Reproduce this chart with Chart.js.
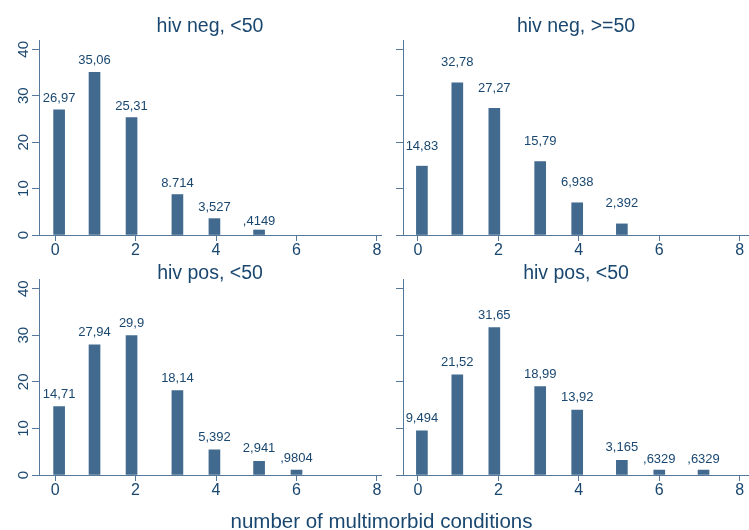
<!DOCTYPE html>
<html>
<head>
<meta charset="utf-8">
<script src="https://cdn.jsdelivr.net/npm/chart.js@4.4.0/dist/chart.umd.min.js"></script>
<style>
  body { margin: 0; background: #fff; }
  #wrap { position: relative; width: 749px; height: 530px; overflow: hidden; background: #fff; }
  canvas { position: absolute; }
  #xtitle { position: absolute; left: 0; width: 763px; top: 509px; line-height: 24px; text-align: center;
    font-size: 20.5px; font-family: "Liberation Sans", Arial, sans-serif; color: #1a476f; }
</style>
</head>
<body>
<div id="wrap">
  <canvas id="c0" width="385" height="260" style="left:0;top:0"></canvas>
  <canvas id="c1" width="364" height="260" style="left:385px;top:0"></canvas>
  <canvas id="c2" width="385" height="270" style="left:0;top:260px"></canvas>
  <canvas id="c3" width="364" height="270" style="left:385px;top:260px"></canvas>
  <div id="xtitle">number of multimorbid conditions</div>
</div>
<script>
// bin centres (number of conditions) as they sit on the x axis
var binCenters = [0.1, 0.98, 1.9, 3.04, 3.96, 5.07, 6.0, 7.1];
var xTicks = [0, 2, 4, 6, 8];
var yTicks = [0, 10, 20, 30, 40];

var titles = ['hiv neg, <50', 'hiv neg, >=50', 'hiv pos, <50', 'hiv pos, <50'];

// percent per bin
var negUnder50 = [26.97, 35.06, 25.31, 8.714, 3.527, 0.4149];
var negOver50 = [14.83, 32.78, 27.27, 15.79, 6.938, 2.392];
var posUnder50 = [14.71, 27.94, 29.9, 18.14, 5.392, 2.941, 0.9804];
var posUnder50b = [9.494, 21.52, 31.65, 18.99, 13.92, 3.165, 0.6329, 0.6329];

// bar labels as printed
var negUnder50Text = ['26,97', '35,06', '25,31', '8.714', '3,527', ',4149'];
var negOver50Text = ['14,83', '32,78', '27,27', '15,79', '6,938', '2,392'];
var posUnder50Text = ['14,71', '27,94', '29,9', '18,14', '5,392', '2,941', ',9804'];
var posUnder50bText = ['9,494', '21,52', '31,65', '18,99', '13,92', '3,165', ',6329', ',6329'];

var textColor = '#1a476f';
var barColor = '#416a8e';
var axisColor = '#56789a';
var fontFamily = '"Liberation Sans", Arial, sans-serif';

var valueLabels = {
  id: 'valueLabels',
  afterDatasetsDraw: function (chart, args, opts) {
    var ctx = chart.ctx;
    var meta = chart.getDatasetMeta(0);
    var ys = chart.scales.y;
    var data = chart.data.datasets[0].data;
    ctx.save();
    ctx.font = '13px ' + fontFamily;
    ctx.fillStyle = textColor;
    ctx.textAlign = 'center';
    ctx.textBaseline = 'middle';
    meta.data.forEach(function (bar, i) {
      ctx.fillText(opts.texts[i], bar.x, ys.getPixelForValue(data[i].y) - opts.offset);
    });
    ctx.restore();
  }
};

function makePanel(id, title, values, texts, p) {
  var points = values.map(function (v, i) { return { x: binCenters[i], y: v }; });
  return new Chart(document.getElementById(id), {
    type: 'bar',
    data: {
      datasets: [{
        data: points,
        backgroundColor: barColor,
        borderWidth: 0,
        barThickness: 11,
        minBarLength: 5
      }]
    },
    plugins: [valueLabels],
    options: {
      responsive: false,
      animation: false,
      events: [],
      layout: { padding: { left: 0, right: p.padRight, top: 0, bottom: p.padBottom } },
      plugins: {
        legend: { display: false },
        tooltip: { enabled: false },
        title: {
          display: true,
          text: title,
          fullSize: false,
          color: textColor,
          font: { family: fontFamily, size: 19.5, weight: 'normal', lineHeight: 0.78 },
          padding: { top: p.titleTop, bottom: p.titleBottom }
        },
        valueLabels: { texts: texts, offset: p.labelOffset }
      },
      scales: {
        x: {
          type: 'linear',
          min: p.xMin,
          max: p.xMax,
          offset: false,
          afterBuildTicks: function (s) { s.ticks = xTicks.map(function (v) { return { value: v }; }); },
          afterFit: function (s) { s.height = 25; },
          grid: { offset: false, drawOnChartArea: false, drawTicks: true, tickLength: 6, color: axisColor, lineWidth: 1 },
          border: { display: true, color: axisColor, width: 1 },
          ticks: { color: textColor, font: { family: fontFamily, size: 16 }, padding: 0, maxRotation: 0, autoSkip: false }
        },
        y: {
          min: 0,
          max: 42,
          afterBuildTicks: function (s) { s.ticks = yTicks.map(function (v) { return { value: v }; }); },
          afterFit: function (s) { s.width = p.yWidth; },
          grid: { drawOnChartArea: false, drawTicks: true, tickLength: 7, color: axisColor, lineWidth: 1 },
          border: { display: true, color: axisColor, width: 1 },
          ticks: {
            display: p.yLabels,
            color: textColor,
            font: { family: fontFamily, size: 15 },
            minRotation: 90,
            maxRotation: 90,
            crossAlign: 'center',
            padding: 0
          }
        }
      }
    }
  });
}

var leftTop = { xMin: -0.4, xMax: 8.1, yWidth: 39, yLabels: true, padRight: 4, padBottom: 0, titleTop: 19, titleBottom: 5.8, labelOffset: 11.5 };
var rightTop = { xMin: -0.37, xMax: 8.23, yWidth: 18, yLabels: false, padRight: 0, padBottom: 0, titleTop: 19, titleBottom: 5.8, labelOffset: 20 };
var leftBottom = { xMin: -0.4, xMax: 8.1, yWidth: 39, yLabels: true, padRight: 4, padBottom: 30, titleTop: 5.6, titleBottom: -1.5, labelOffset: 12.5 };
var rightBottom = { xMin: -0.37, xMax: 8.23, yWidth: 18, yLabels: false, padRight: 0, padBottom: 30, titleTop: 5.6, titleBottom: -1.5, labelOffset: 12.5 };

makePanel('c0', titles[0], negUnder50, negUnder50Text, leftTop);
makePanel('c1', titles[1], negOver50, negOver50Text, rightTop);
makePanel('c2', titles[2], posUnder50, posUnder50Text, leftBottom);
makePanel('c3', titles[3], posUnder50b, posUnder50bText, rightBottom);
</script>
</body>
</html>
